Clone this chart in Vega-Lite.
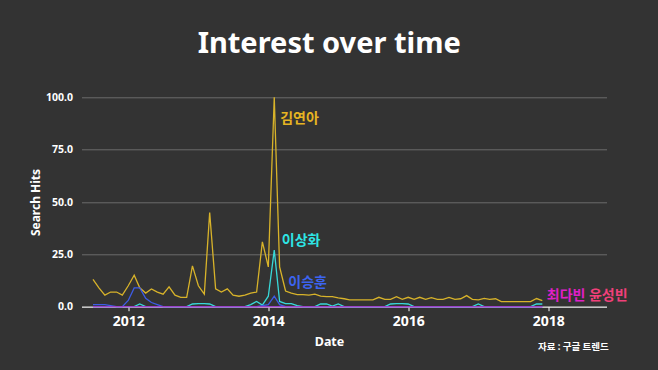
{
  "$schema": "https://vega.github.io/schema/vega-lite/v6.json",
  "width": 525,
  "height": 209.4,
  "autosize": {"type": "none"},
  "padding": {"left": 81.5, "top": 97.3, "right": 51.5, "bottom": 63.3},
  "background": "#333333",
  "config": {"view": {"stroke": null}, "font": "Noto Sans"},
  "title": {
    "text": "Interest over time",
    "font": "Noto Sans",
    "fontSize": 29,
    "fontWeight": "bold",
    "color": "#ffffff",
    "anchor": "middle",
    "frame": "group",
    "dx": -14.75,
    "offset": 33
  },
  "datasets": {
    "trends": [
      {"date": "2011-07-01", "김연아": 13, "이상화": 0, "이승훈": 1, "최다빈": 0, "윤성빈": 0},
      {"date": "2011-08-01", "김연아": 9, "이상화": 0, "이승훈": 1, "최다빈": 0, "윤성빈": 0},
      {"date": "2011-09-01", "김연아": 5.5, "이상화": 0, "이승훈": 1, "최다빈": 0, "윤성빈": 0},
      {"date": "2011-10-01", "김연아": 7, "이상화": 0, "이승훈": 0.5, "최다빈": 0, "윤성빈": 0},
      {"date": "2011-11-01", "김연아": 7, "이상화": 0, "이승훈": 0, "최다빈": 0, "윤성빈": 0},
      {"date": "2011-12-01", "김연아": 5.5, "이상화": 0, "이승훈": 0, "최다빈": 0, "윤성빈": 0},
      {"date": "2012-01-01", "김연아": 10, "이상화": 0, "이승훈": 3, "최다빈": 0, "윤성빈": 0},
      {"date": "2012-02-01", "김연아": 15, "이상화": 0, "이승훈": 9, "최다빈": 0, "윤성빈": 0},
      {"date": "2012-03-01", "김연아": 9, "이상화": 1.3, "이승훈": 9, "최다빈": 0, "윤성빈": 0},
      {"date": "2012-04-01", "김연아": 6.5, "이상화": 0, "이승훈": 4, "최다빈": 0, "윤성빈": 0},
      {"date": "2012-05-01", "김연아": 8.5, "이상화": 0, "이승훈": 2, "최다빈": 0, "윤성빈": 0},
      {"date": "2012-06-01", "김연아": 7, "이상화": 0, "이승훈": 1, "최다빈": 0, "윤성빈": 0},
      {"date": "2012-07-01", "김연아": 6, "이상화": 0, "이승훈": 0, "최다빈": 0, "윤성빈": 0},
      {"date": "2012-08-01", "김연아": 9.5, "이상화": 0, "이승훈": 0, "최다빈": 0, "윤성빈": 0},
      {"date": "2012-09-01", "김연아": 5.5, "이상화": 0, "이승훈": 0, "최다빈": 0, "윤성빈": 0},
      {"date": "2012-10-01", "김연아": 4.5, "이상화": 0, "이승훈": 0, "최다빈": 0, "윤성빈": 0},
      {"date": "2012-11-01", "김연아": 4.5, "이상화": 0, "이승훈": 0, "최다빈": 0, "윤성빈": 0},
      {"date": "2012-12-01", "김연아": 19.5, "이상화": 1.3, "이승훈": 0, "최다빈": 0, "윤성빈": 0},
      {"date": "2013-01-01", "김연아": 10, "이상화": 1.5, "이승훈": 0, "최다빈": 0, "윤성빈": 0},
      {"date": "2013-02-01", "김연아": 6, "이상화": 1.5, "이승훈": 0, "최다빈": 0, "윤성빈": 0},
      {"date": "2013-03-01", "김연아": 45, "이상화": 1.3, "이승훈": 0, "최다빈": 0, "윤성빈": 0},
      {"date": "2013-04-01", "김연아": 8.5, "이상화": 0, "이승훈": 0, "최다빈": 0, "윤성빈": 0},
      {"date": "2013-05-01", "김연아": 7, "이상화": 0, "이승훈": 0, "최다빈": 0, "윤성빈": 0},
      {"date": "2013-06-01", "김연아": 8.5, "이상화": 0, "이승훈": 0, "최다빈": 0, "윤성빈": 0},
      {"date": "2013-07-01", "김연아": 5.5, "이상화": 0, "이승훈": 0, "최다빈": 0, "윤성빈": 0},
      {"date": "2013-08-01", "김연아": 5, "이상화": 0, "이승훈": 0, "최다빈": 0, "윤성빈": 0},
      {"date": "2013-09-01", "김연아": 5.5, "이상화": 0, "이승훈": 0, "최다빈": 0, "윤성빈": 0},
      {"date": "2013-10-01", "김연아": 6.5, "이상화": 1, "이승훈": 0, "최다빈": 0, "윤성빈": 0},
      {"date": "2013-11-01", "김연아": 7, "이상화": 2.5, "이승훈": 0, "최다빈": 0, "윤성빈": 0},
      {"date": "2013-12-01", "김연아": 31, "이상화": 0.8, "이승훈": 0.5, "최다빈": 0, "윤성빈": 0},
      {"date": "2014-01-01", "김연아": 19, "이상화": 5, "이승훈": 1, "최다빈": 0, "윤성빈": 0},
      {"date": "2014-02-01", "김연아": 100, "이상화": 27, "이승훈": 5, "최다빈": 0, "윤성빈": 0},
      {"date": "2014-03-01", "김연아": 19, "이상화": 2.5, "이승훈": 1, "최다빈": 0, "윤성빈": 0},
      {"date": "2014-04-01", "김연아": 7.5, "이상화": 1.5, "이승훈": 0, "최다빈": 0, "윤성빈": 0},
      {"date": "2014-05-01", "김연아": 6.5, "이상화": 1.5, "이승훈": 0, "최다빈": 0, "윤성빈": 0},
      {"date": "2014-06-01", "김연아": 5.8, "이상화": 0.5, "이승훈": 0, "최다빈": 0, "윤성빈": 0},
      {"date": "2014-07-01", "김연아": 5.8, "이상화": 0, "이승훈": 0, "최다빈": 0, "윤성빈": 0},
      {"date": "2014-08-01", "김연아": 5.5, "이상화": 0, "이승훈": 0, "최다빈": 0, "윤성빈": 0},
      {"date": "2014-09-01", "김연아": 6, "이상화": 0, "이승훈": 0, "최다빈": 0, "윤성빈": 0},
      {"date": "2014-10-01", "김연아": 5, "이상화": 1.3, "이승훈": 0, "최다빈": 0, "윤성빈": 0},
      {"date": "2014-11-01", "김연아": 4.8, "이상화": 1.3, "이승훈": 0, "최다빈": 0, "윤성빈": 0},
      {"date": "2014-12-01", "김연아": 4.8, "이상화": 0.3, "이승훈": 0, "최다빈": 0, "윤성빈": 0},
      {"date": "2015-01-01", "김연아": 4.2, "이상화": 1.3, "이승훈": 0, "최다빈": 0, "윤성빈": 0},
      {"date": "2015-02-01", "김연아": 3.8, "이상화": 0, "이승훈": 0, "최다빈": 0, "윤성빈": 0},
      {"date": "2015-03-01", "김연아": 3.3, "이상화": 0, "이승훈": 0, "최다빈": 0, "윤성빈": 0},
      {"date": "2015-04-01", "김연아": 3.3, "이상화": 0, "이승훈": 0, "최다빈": 0, "윤성빈": 0},
      {"date": "2015-05-01", "김연아": 3.3, "이상화": 0, "이승훈": 0, "최다빈": 0, "윤성빈": 0},
      {"date": "2015-06-01", "김연아": 3.3, "이상화": 0, "이승훈": 0, "최다빈": 0, "윤성빈": 0},
      {"date": "2015-07-01", "김연아": 3.3, "이상화": 0, "이승훈": 0, "최다빈": 0, "윤성빈": 0},
      {"date": "2015-08-01", "김연아": 4.5, "이상화": 0, "이승훈": 0, "최다빈": 0, "윤성빈": 0},
      {"date": "2015-09-01", "김연아": 3.5, "이상화": 0, "이승훈": 0, "최다빈": 0, "윤성빈": 0},
      {"date": "2015-10-01", "김연아": 3.5, "이상화": 1.3, "이승훈": 0, "최다빈": 0, "윤성빈": 0},
      {"date": "2015-11-01", "김연아": 4.8, "이상화": 1.5, "이승훈": 0, "최다빈": 0, "윤성빈": 0},
      {"date": "2015-12-01", "김연아": 3.5, "이상화": 1.5, "이승훈": 0, "최다빈": 0, "윤성빈": 0},
      {"date": "2016-01-01", "김연아": 4.5, "이상화": 1.3, "이승훈": 0, "최다빈": 0, "윤성빈": 0},
      {"date": "2016-02-01", "김연아": 3.5, "이상화": 0, "이승훈": 0, "최다빈": 0, "윤성빈": 0},
      {"date": "2016-03-01", "김연아": 4.5, "이상화": 0, "이승훈": 0, "최다빈": 0, "윤성빈": 0},
      {"date": "2016-04-01", "김연아": 3.5, "이상화": 0, "이승훈": 0, "최다빈": 0, "윤성빈": 0},
      {"date": "2016-05-01", "김연아": 4.3, "이상화": 0, "이승훈": 0, "최다빈": 0, "윤성빈": 0},
      {"date": "2016-06-01", "김연아": 3.5, "이상화": 0, "이승훈": 0, "최다빈": 0, "윤성빈": 0},
      {"date": "2016-07-01", "김연아": 3.5, "이상화": 0, "이승훈": 0, "최다빈": 0, "윤성빈": 0},
      {"date": "2016-08-01", "김연아": 4.4, "이상화": 0, "이승훈": 0, "최다빈": 0, "윤성빈": 0},
      {"date": "2016-09-01", "김연아": 3.5, "이상화": 0, "이승훈": 0, "최다빈": 0, "윤성빈": 0},
      {"date": "2016-10-01", "김연아": 3.8, "이상화": 0, "이승훈": 0, "최다빈": 0, "윤성빈": 0},
      {"date": "2016-11-01", "김연아": 5.3, "이상화": 0, "이승훈": 0, "최다빈": 0, "윤성빈": 0},
      {"date": "2016-12-01", "김연아": 3.5, "이상화": 0, "이승훈": 0, "최다빈": 0, "윤성빈": 0},
      {"date": "2017-01-01", "김연아": 3.3, "이상화": 1.3, "이승훈": 0, "최다빈": 0, "윤성빈": 0},
      {"date": "2017-02-01", "김연아": 4, "이상화": 0, "이승훈": 0, "최다빈": 0, "윤성빈": 0},
      {"date": "2017-03-01", "김연아": 3.5, "이상화": 0, "이승훈": 0, "최다빈": 0, "윤성빈": 0},
      {"date": "2017-04-01", "김연아": 3.8, "이상화": 0, "이승훈": 0, "최다빈": 0, "윤성빈": 0},
      {"date": "2017-05-01", "김연아": 2.4, "이상화": 0, "이승훈": 0, "최다빈": 0, "윤성빈": 0},
      {"date": "2017-06-01", "김연아": 2.4, "이상화": 0, "이승훈": 0, "최다빈": 0, "윤성빈": 0},
      {"date": "2017-07-01", "김연아": 2.4, "이상화": 0, "이승훈": 0, "최다빈": 0, "윤성빈": 0},
      {"date": "2017-08-01", "김연아": 2.4, "이상화": 0, "이승훈": 0, "최다빈": 0, "윤성빈": 0},
      {"date": "2017-09-01", "김연아": 2.4, "이상화": 0, "이승훈": 0, "최다빈": 0, "윤성빈": 0},
      {"date": "2017-10-01", "김연아": 2.4, "이상화": 0, "이승훈": 0, "최다빈": 0, "윤성빈": 0},
      {"date": "2017-11-01", "김연아": 3.9, "이상화": 1.3, "이승훈": 0, "최다빈": 0, "윤성빈": 0},
      {"date": "2017-12-01", "김연아": 2.9, "이상화": 1.3, "이승훈": 0, "최다빈": 0, "윤성빈": 0}
    ],
    "labels": [
      {"name": "김연아", "date": "2014-06-13", "hits": 89.5},
      {"name": "이상화", "date": "2014-06-21", "hits": 31.5},
      {"name": "이승훈", "date": "2014-07-25", "hits": 11.3},
      {"name": "최다빈", "date": "2018-04-04", "hits": 5.1},
      {"name": "윤성빈", "date": "2018-11-10", "hits": 5.1}
    ]
  },
  "layer": [
    {
      "data": {"name": "trends"},
      "transform": [{"fold": ["김연아", "이상화", "이승훈", "최다빈", "윤성빈"], "as": ["name", "hits"]}],
      "mark": {"type": "line", "strokeWidth": 1.3},
      "encoding": {
        "x": {
          "field": "date",
          "type": "temporal",
          "scale": {
            "type": "utc",
            "domain": [
              {"year": 2011, "month": 5, "date": 2, "utc": true},
              {"year": 2018, "month": 11, "date": 1, "utc": true}
            ]
          },
          "axis": {
            "values": [
              {"year": 2012, "month": 1, "date": 1, "utc": true},
              {"year": 2014, "month": 1, "date": 1, "utc": true},
              {"year": 2016, "month": 1, "date": 1, "utc": true},
              {"year": 2018, "month": 1, "date": 1, "utc": true}
            ],
            "format": "%Y",
            "formatType": "utc",
            "grid": false,
            "domainColor": "#ffffff",
            "domainWidth": 1,
            "tickColor": "#ffffff",
            "tickSize": 4,
            "labelColor": "#ffffff",
            "labelFont": "Noto Sans",
            "labelFontWeight": "bold",
            "labelFontSize": 14,
            "labelPadding": 4,
            "title": "Date",
            "titleColor": "#ffffff",
            "titleFont": "Noto Sans",
            "titleFontWeight": "bold",
            "titleFontSize": 12.5,
            "titleX": 247.5,
            "titleY": 35,
            "titleBaseline": "middle",
            "titleAlign": "center"
          }
        },
        "y": {
          "field": "hits",
          "type": "quantitative",
          "scale": {"domain": [0, 100]},
          "axis": {
            "values": [0, 25, 50, 75, 100],
            "format": ".1f",
            "grid": true,
            "gridColor": "#6b6b6b",
            "gridWidth": 1,
            "domain": false,
            "ticks": false,
            "labelPadding": 9,
            "labelColor": "#ffffff",
            "labelFont": "Noto Sans",
            "labelFontWeight": "bold",
            "labelFontSize": 10.5,
            "title": "Search Hits",
            "titleColor": "#ffffff",
            "titleFont": "Noto Sans",
            "titleFontWeight": "bold",
            "titleFontSize": 12,
            "titleX": -46.5,
            "titleY": 104.7,
            "titleAngle": -90,
            "titleBaseline": "middle",
            "titleAlign": "center"
          }
        },
        "color": {
          "field": "name",
          "type": "nominal",
          "scale": {
            "domain": ["김연아", "이상화", "이승훈", "최다빈", "윤성빈"],
            "range": ["#d8b32a", "#38d9d9", "#3d5ce6", "#9b40c8", "#9b40c8"]
          },
          "legend": null
        }
      }
    },
    {
      "data": {"name": "labels"},
      "mark": {"type": "text", "font": "Noto Sans CJK KR", "fontWeight": "bold", "fontSize": 14, "align": "center", "baseline": "middle"},
      "encoding": {
        "x": {"field": "date", "type": "temporal"},
        "y": {"field": "hits", "type": "quantitative"},
        "text": {"field": "name"},
        "color": {
          "field": "name",
          "type": "nominal",
          "scale": {
            "domain": ["김연아", "이상화", "이승훈", "최다빈", "윤성빈"],
            "range": ["#e6b422", "#2ee6e6", "#3c64f0", "#e020c8", "#f0407a"]
          },
          "legend": null
        }
      }
    },
    {
      "data": {"values": [{"caption": "자료 : 구글 트렌드"}]},
      "mark": {"type": "text", "font": "Noto Sans CJK KR", "fontWeight": "bold", "fontSize": 9.5, "align": "center", "baseline": "middle", "color": "#ffffff"},
      "encoding": {
        "x": {"datum": {"year": 2018, "month": 5, "date": 12, "utc": true}, "type": "temporal"},
        "y": {"datum": -19.2, "type": "quantitative"},
        "text": {"field": "caption"}
      }
    }
  ],
  "resolve": {"scale": {"color": "independent"}}
}
